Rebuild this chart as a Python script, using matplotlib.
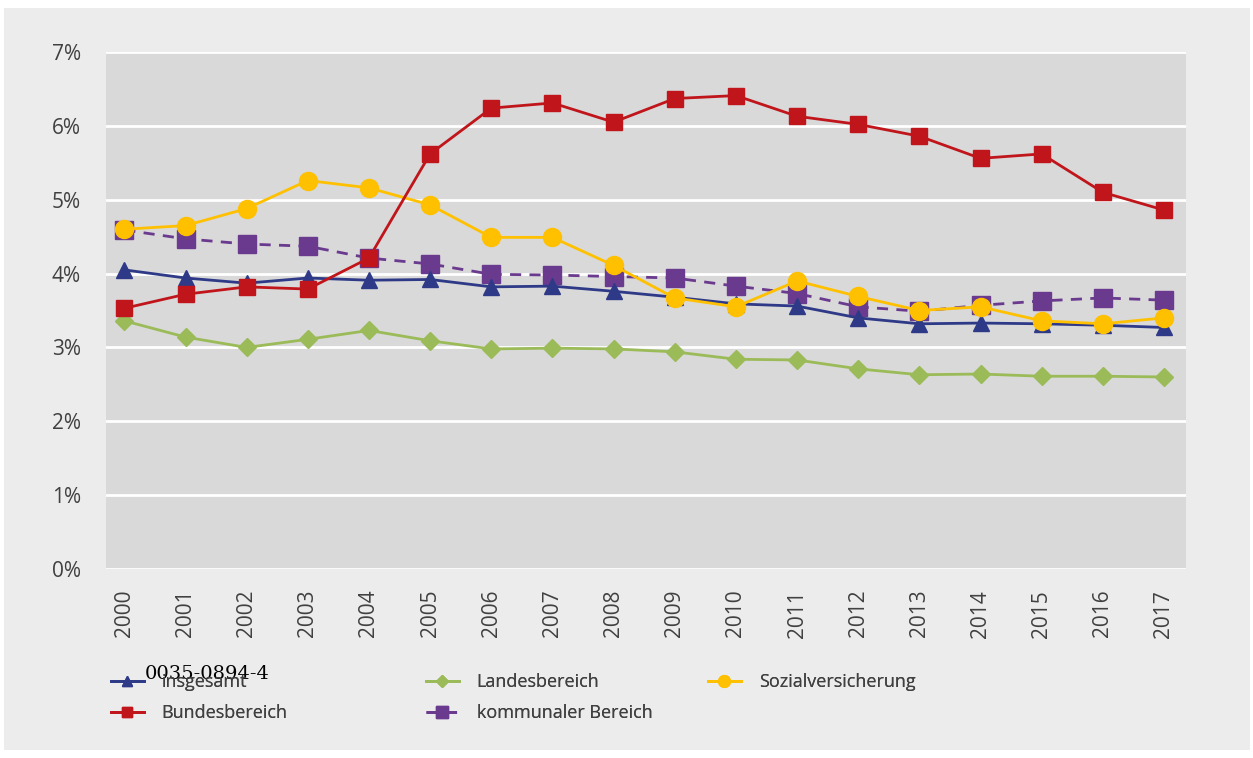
import numpy as np
import matplotlib
matplotlib.use("Agg")
import matplotlib.pyplot as plt
from matplotlib.patches import Rectangle

plt.rcParams['font.family'] = ['Open Sans', 'DejaVu Sans']

years = list(range(2000, 2018))

insgesamt = [4.05, 3.94, 3.87, 3.94, 3.91, 3.92, 3.82, 3.83, 3.76,
             3.68, 3.59, 3.56, 3.40, 3.32, 3.33, 3.32, 3.30, 3.27]
bund = [3.53, 3.72, 3.82, 3.79, 4.21, 5.62, 6.24, 6.31, 6.05,
        6.37, 6.41, 6.13, 6.02, 5.86, 5.56, 5.62, 5.10, 4.86]
land = [3.36, 3.14, 3.00, 3.11, 3.23, 3.09, 2.98, 2.99, 2.98,
        2.94, 2.84, 2.83, 2.71, 2.63, 2.64, 2.61, 2.61, 2.60]
sozial = [4.60, 4.65, 4.88, 5.26, 5.16, 4.93, 4.49, 4.49, 4.11,
          3.67, 3.55, 3.90, 3.69, 3.50, 3.55, 3.36, 3.32, 3.40]
kommunal = [4.59, 4.47, 4.40, 4.37, 4.21, 4.13, 3.99, 3.98, 3.96,
            3.94, 3.83, 3.73, 3.55, 3.49, 3.57, 3.63, 3.67, 3.64]

ytick_labels = ['0%', '1%', '2%', '3%', '4%', '5%', '6%', '7%']

fig = plt.figure(figsize=(12.53, 7.58), dpi=100)
fig.patch.set_facecolor('white')
fig.patches.append(Rectangle((4/1253, 8/758), 1246/1253, 742/758,
                             transform=fig.transFigure, facecolor='#ececec',
                             edgecolor='none', zorder=-10))

ax = fig.add_axes([106/1253, 1 - 569/758, (1186 - 106)/1253, (569 - 52)/758])
ax.set_facecolor('#d9d9d9')

l_kom, = ax.plot(years, kommunal, color='#6a3a8e', ls=(0, (4, 3)), lw=2,
                 marker='s', ms=13, zorder=3)
l_ins, = ax.plot(years, insgesamt, color='#2e3a87', lw=2, marker='^',
                 ms=11, zorder=4)
l_land, = ax.plot(years, land, color='#9bbb59', lw=2, marker='D',
                  ms=9, zorder=4)
l_soz, = ax.plot(years, sozial, color='#ffc000', lw=2, marker='o',
                 ms=13, zorder=5)
l_bund, = ax.plot(years, bund, color='#c0161b', lw=2, marker='s',
                  ms=12, zorder=6)

ax.set_xlim(1999.7, 2017.36)
ax.set_ylim(0, 7)
ax.set_yticks(range(8))
ax.set_yticklabels(ytick_labels)
ax.set_xticks(years)
ax.set_xticklabels([str(y) for y in years], rotation=90)
ax.tick_params(length=0, labelsize=15, colors='#404040')
ax.tick_params(axis='y', pad=18)
ax.tick_params(axis='x', pad=15)
ax.grid(axis='y', color='white', lw=2)
ax.set_axisbelow(True)
for s in ax.spines.values():
    s.set_visible(False)

# three legend columns at fixed positions
cols = [([l_ins, l_bund], ['insgesamt', 'Bundesbereich'], 102),
        ([l_land, l_kom], ['Landesbereich', 'kommunaler Bereich'], 417),
        ([l_soz], ['Sozialversicherung'], 699)]
for handles, labels, x0 in cols:
    lg = fig.legend(handles, labels, loc='upper left',
                    bbox_to_anchor=(x0/1253, 1 - 664/758),
                    frameon=False, fontsize=13, labelcolor='#404040',
                    handlelength=1.8, handletextpad=1.0, labelspacing=0.72,
                    markerscale=0.65, borderpad=0)
    fig.add_artist(lg)

fig.text(145/1253, 1 - 674/758, '0035-0894-4', family='DejaVu Serif',
         fontsize=14, color='black', va='center', ha='left')

fig.savefig('out.png', dpi=100)
